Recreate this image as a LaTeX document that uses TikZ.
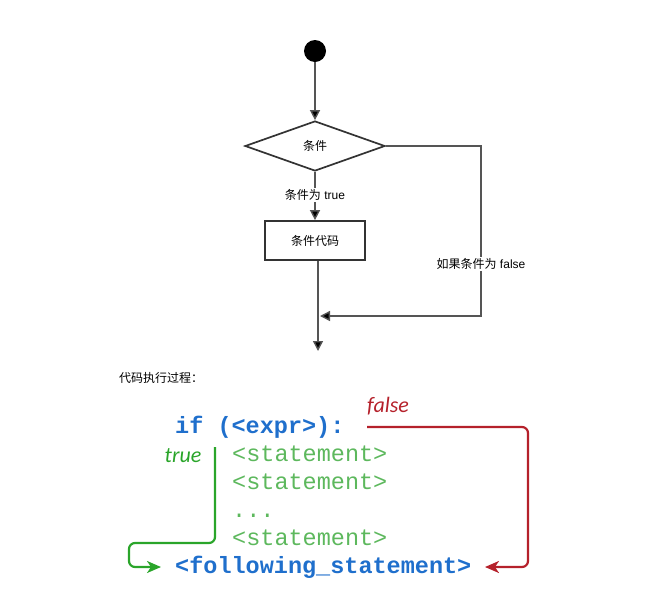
\documentclass[tikz,border=0pt]{standalone}
\usepackage{fontspec}
\setmainfont{Liberation Sans}
\newfontfamily\cjk{Noto Sans CJK SC}
\newfontfamily\codefont{Liberation Mono}
\newfontfamily\labfont{Carlito}
\usetikzlibrary{shapes.geometric,arrows.meta}
\definecolor{codeblue}{HTML}{1F6FCC}
\definecolor{stmtgreen}{HTML}{5DB85D}
\definecolor{truegreen}{HTML}{2AA52A}
\definecolor{falsered}{HTML}{B5212B}
\definecolor{flowline}{HTML}{555555}
\definecolor{flowborder}{HTML}{333333}
\begin{document}
\begin{tikzpicture}[x=1pt,y=-1pt,
  flow/.style={draw=flowline,line width=1.4pt,-{Triangle[length=10pt,width=10pt,fill=black]}},
  flowbox/.style={draw=flowborder,line width=1.7pt,inner sep=0pt,font=\cjk\fontsize{12}{14}\selectfont},
  lab/.style={fill=white,inner sep=1.5pt,font=\fontsize{12}{14}\selectfont},
  code/.style={anchor=base west,inner sep=0pt,font=\codefont\fontsize{23.5}{28}\selectfont},
  ifcode/.style={code,text=codeblue,font=\codefont\bfseries\fontsize{23.5}{28}\selectfont},
  stmt/.style={code,text=stmtgreen},
  codearrow/.style={line width=2.2pt,rounded corners=6pt,-{Stealth[length=14pt,width=12pt,inset=4pt]}}
]
\useasboundingbox (0,0) rectangle (672,598);

% flowchart
\node[circle,fill=black,minimum size=22pt,inner sep=0pt] (start) at (315,51) {};
\node[diamond,flowbox,minimum width=140pt,minimum height=50pt] (cond) at (315,146) {条件};
\node[flowbox,minimum width=100pt,minimum height=39pt] (body) at (315,240.5) {条件代码};
\coordinate (endp) at (318,351);
\coordinate (fcorner) at (481,316);
\coordinate (merge) at (320,316);

\draw[flow] (start) -- (cond.north);
\draw[flow] (cond.south) -- node[lab,pos=0.48]{{\cjk 条件为} true} (body.north);
\draw[flow] (body.south -| endp) -- (endp);
\draw[flow] (cond.east) -| (fcorner) -- (merge);
\node[lab] (flab) at (481,264) {{\cjk 如果条件为} false};

\node[anchor=west,inner sep=0pt,font=\cjk\fontsize{12}{14}\selectfont] (title) at (119,378) {代码执行过程：};

% code
\node[ifcode] (ifline) at (175,433) {if (<expr>):};
\node[stmt] (s1) at (232,461) {<statement>};
\node[stmt] (s2) at (232,489) {<statement>};
\node[stmt] (s3) at (232,517) {...};
\node[stmt] (s4) at (232,545) {<statement>};
\node[ifcode] (follow) at (175,573) {<following\_statement>};

\node[text=falsered,font=\labfont\itshape\fontsize{22}{26}\selectfont,inner sep=0pt] (flbl) at (388,406) {false};
\node[text=truegreen,font=\labfont\itshape\fontsize{22}{26}\selectfont,inner sep=0pt] (tlbl) at (183,456) {true};

\coordinate (rstart) at (367,427);
\coordinate (rcorner) at (528,567);
\coordinate (rend) at (485,567);
\draw[codearrow,falsered] (rstart) -| (rcorner) -- (rend);

\coordinate (gtop) at (215,447);
\coordinate (gmid) at (129,543);
\coordinate (gend) at (161,567);
\draw[codearrow,truegreen] (gtop) |- (gmid) |- (gend);
\end{tikzpicture}
\end{document}
